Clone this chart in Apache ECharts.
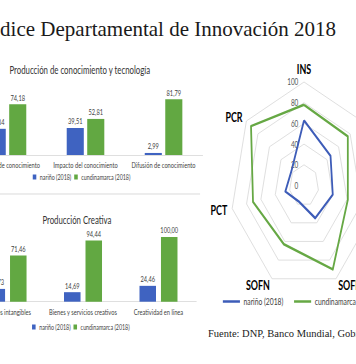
<!DOCTYPE html>
<html><head><meta charset="utf-8">
<script src="https://cdn.jsdelivr.net/npm/echarts/dist/echarts.min.js"></script>
<style>
html,body{margin:0;padding:0;background:#fff;overflow:hidden;}
#wrap{position:relative;width:356px;height:364px;overflow:hidden;background:#fff;}
#charts{position:absolute;left:0;top:0;width:500px;height:364px;transform:scaleX(0.712);transform-origin:0 0;}
#frame{position:absolute;left:0;top:0;width:356px;height:364px;}
</style></head><body>
<div id="wrap"><div id="charts"></div><div id="frame"></div></div>
<script>
// ---- data ----
const seriesNames = ['nariño (2018)', 'cundinamarca (2018)'];
const pctCategories = ['Creación de conocimiento', 'Impacto del conocimiento', 'Difusión de conocimiento'];
const pctNarino = [38.34, 39.51, 2.99];
const pctCundinamarca = [74.18, 52.81, 81.79];
const pcrCategories = ['Activos intangibles', 'Bienes y servicios creativos', 'Creatividad en línea'];
const pcrNarino = [19.73, 14.69, 24.46];
const pcrCundinamarca = [71.46, 94.44, 100.00];
const radarIndicators = ['INS', 'PCR', 'PCT', 'SOFN', 'SOFM', 'INF', 'CHI'];
const radarNarino = [63, 22, 26, 17, 35, 40, 46];
const radarCundinamarca = [78, 92, 71, 63, 90, 61, 76];
const radarTickStep = 20;
const radarMax = 100;

// ---- styles ----
const BLUE = '#3f63c1', GREEN = '#62a842';
const LBLUE = '#3d5cb8', LGREEN = '#66a844';
const FONT = 'Lato';
const fmt = p => p.value.toFixed(2).replace('.', ',');
const barLabel = {show: true, position: 'top', distance: 3, fontFamily: FONT, fontSize: 8, color: '#404040', formatter: fmt};
const catAxis = (gi, data) => ({
  gridIndex: gi, type: 'category', data: data,
  axisLine: {show: true, lineStyle: {color: '#d9d9d9'}}, axisTick: {show: false},
  axisLabel: {interval: 0, fontFamily: FONT, fontSize: 8, color: '#404040', margin: 6}
});
const barLegend = (left, top) => ({
  data: seriesNames, left: left, top: top, width: 300, icon: 'rect', itemWidth: 5, itemHeight: 5, itemGap: 4,
  padding: 0, selectedMode: false, orient: 'horizontal',
  textStyle: {fontFamily: FONT, fontSize: 7.5, color: '#404040'}
});

const main = echarts.init(document.getElementById('charts'), null, {renderer: 'svg', width: 500, height: 364});
main.setOption({
  animation: false,
  textStyle: {fontFamily: FONT},
  grid: [
    {left: -44.3, top: 86.7, width: 328.8, height: 68.3, containLabel: false, outerBoundsMode: 'none'},
    {left: -42.4, top: 236.9, width: 318, height: 64.8, containLabel: false, outerBoundsMode: 'none'},
    {left: 427, top: 82, width: 1, height: 103.5, containLabel: false, outerBoundsMode: 'none'}
  ],
  xAxis: [
    catAxis(0, pctCategories),
    catAxis(1, pcrCategories),
    {gridIndex: 2, type: 'value', show: false}
  ],
  yAxis: [
    {gridIndex: 0, type: 'value', min: 0, max: 100, show: false},
    {gridIndex: 1, type: 'value', min: 0, max: 100, show: false},
    {gridIndex: 2, type: 'value', min: 0, max: radarMax, interval: radarTickStep,
     axisLine: {show: false}, axisTick: {show: false}, splitLine: {show: false},
     axisLabel: {fontFamily: FONT, fontSize: 9, color: '#595959', margin: 8}}
  ],
  radar: {
    center: [427, 185.5], radius: 103.5, startAngle: 90, splitNumber: radarMax / radarTickStep, shape: 'polygon',
    indicator: radarIndicators.map(n => ({name: n, min: 0, max: radarMax})),
    axisName: {color: '#000', fontWeight: 'bold', fontSize: 12.5, fontFamily: FONT},
    nameGap: 7,
    axisLine: {show: false}, axisTick: {show: false}, axisLabel: {show: false},
    splitLine: {lineStyle: {color: '#d9d9d9', width: 1}}, splitArea: {show: false}
  },
  legend: [
    barLegend(46, 173),
    barLegend(45, 323),
    {data: [{name: seriesNames[0], itemStyle: {color: LBLUE}}, {name: seriesNames[1], itemStyle: {color: LGREEN}}],
     left: 313, top: 296.5, width: 400, icon: 'rect', itemWidth: 24, itemHeight: 2.5, itemGap: 15, padding: 0, selectedMode: false,
     orient: 'horizontal', textStyle: {fontFamily: FONT, fontSize: 9.5, color: '#404040'}}
  ],
  graphic: [
    {type: 'text', x: 112, y: 70, style: {text: 'Producción de conocimiento y tecnología', fontFamily: FONT, fontSize: 11, fill: '#333', align: 'center', verticalAlign: 'middle'}},
    {type: 'text', x: 108, y: 220, style: {text: 'Producción Creativa', fontFamily: FONT, fontSize: 11, fill: '#333', align: 'center', verticalAlign: 'middle'}},
    {type: 'line', shape: {x1: 0, y1: 194, x2: 281, y2: 194}, style: {stroke: '#d4d4d4', lineWidth: 1}}
  ],
  series: [
    {type: 'bar', name: seriesNames[0], xAxisIndex: 0, yAxisIndex: 0, data: pctNarino, barWidth: 24, barGap: '20%', itemStyle: {color: BLUE}, label: barLabel},
    {type: 'bar', name: seriesNames[1], xAxisIndex: 0, yAxisIndex: 0, data: pctCundinamarca, barWidth: 24, barGap: '20%', itemStyle: {color: GREEN}, label: barLabel},
    {type: 'bar', name: seriesNames[0], xAxisIndex: 1, yAxisIndex: 1, data: pcrNarino, barWidth: 23.2, barGap: '30%', itemStyle: {color: BLUE}, label: barLabel},
    {type: 'bar', name: seriesNames[1], xAxisIndex: 1, yAxisIndex: 1, data: pcrCundinamarca, barWidth: 23.2, barGap: '30%', itemStyle: {color: GREEN}, label: barLabel},
    {type: 'radar', symbol: 'none', data: [
      {name: seriesNames[0], value: radarNarino, lineStyle: {color: LBLUE, width: 2.5}, itemStyle: {color: LBLUE}},
      {name: seriesNames[1], value: radarCundinamarca, lineStyle: {color: LGREEN, width: 2.5}, itemStyle: {color: LGREEN}}
    ]}
  ]
});

const frame = echarts.init(document.getElementById('frame'), null, {renderer: 'svg', width: 356, height: 364});
frame.setOption({
  animation: false,
  graphic: [
    {type: 'text', x: 336, y: 29, style: {text: 'Índice Departamental de Innovación 2018', fontFamily: 'Liberation Serif', fontSize: 21, fill: '#1a1a1a', align: 'right', verticalAlign: 'middle'}},
    {type: 'text', x: 208, y: 333, style: {text: 'Fuente: DNP, Banco Mundial, Gobierno', fontFamily: 'Liberation Serif', fontSize: 10.5, fill: '#1a1a1a', align: 'left', verticalAlign: 'middle'}}
  ]
});
</script>
</body></html>
